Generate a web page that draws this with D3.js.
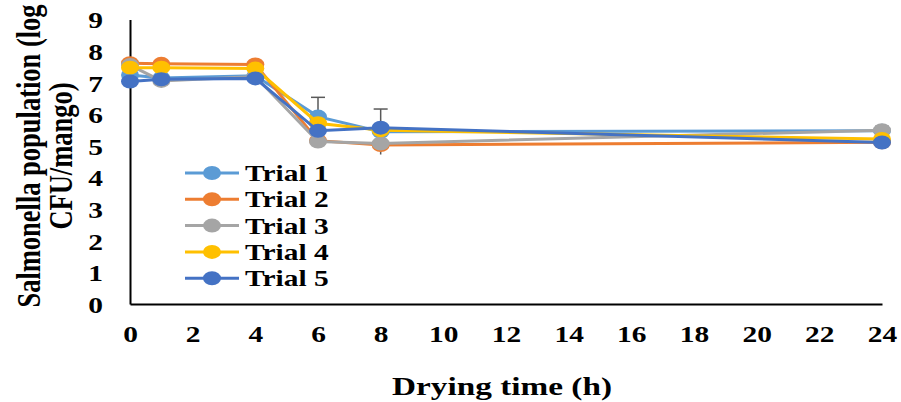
<!DOCTYPE html>
<html>
<head>
<meta charset="utf-8">
<script src="https://cdn.jsdelivr.net/npm/d3@7"></script>
<style>
  body { margin: 0; background: #fff; }
  svg text { font-family: "Times New Roman", "Liberation Serif", Times, serif; font-weight: bold; fill: #000; }
</style>
</head>
<body>
<div id="chart"></div>
<script>
  var hours = [0, 1, 4, 6, 8, 24];
  var trialNames = ['Trial 1', 'Trial 2', 'Trial 3', 'Trial 4', 'Trial 5'];
  var trial1 = [7.25, 7.15, 7.22, 5.93, 5.45, 5.48];
  var trial2 = [7.62, 7.60, 7.58, 5.17, 5.03, 5.12];
  var trial3 = [7.56, 7.06, 7.20, 5.14, 5.08, 5.50];
  var trial4 = [7.48, 7.48, 7.45, 5.72, 5.50, 5.22];
  var trial5 = [7.04, 7.11, 7.14, 5.48, 5.58, 5.11];
  var trial1Err = [0, 0, 0, 0.61, 0.72, 0];
  var trial3Err = [0, 0, 0, 0, 0, 0.12];
  var xTicks = d3.range(0, 25, 2);
  var yTicks = d3.range(0, 10, 1);

  var colors = ['#5B9BD5', '#ED7D31', '#A5A5A5', '#FFC000', '#4472C4'];
  var series = [trial1, trial2, trial3, trial4, trial5];
  var errors = [trial1Err, null, trial3Err, null, null];
  var font = '"Times New Roman", "Liberation Serif", Times, serif';
  var stretch = 1.28;   // the original picture is widened, text included

  var width = 901, height = 402;
  var x = d3.scaleLinear().domain([0, 24]).range([130, 882]);
  var y = d3.scaleLinear().domain([0, 9]).range([304, 19.6]);

  var svg = d3.select('#chart').append('svg')
    .attr('width', width)
    .attr('height', height);

  // axes: plain lines, labels without tick marks
  var xAxis = svg.append('g')
    .attr('transform', 'translate(0,' + y(0) + ')')
    .call(d3.axisBottom(x).tickValues(xTicks).tickSize(0).tickPadding(22));
  var yAxis = svg.append('g')
    .attr('transform', 'translate(' + x(0) + ',0)')
    .call(d3.axisLeft(y).tickValues(yTicks).tickSize(0).tickPadding(27));

  [xAxis, yAxis].forEach(function (ax) {
    ax.attr('font-family', font).attr('font-size', 23);
    ax.select('.domain').attr('stroke', '#000').attr('stroke-width', 2);
    ax.selectAll('text')
      .style('font-family', font)
      .style('font-weight', 'bold')
      .style('font-size', '23px')
      .attr('fill', '#000');
  });
  xAxis.selectAll('text')
    .attr('dy', '0.71em')
    .attr('transform', 'scale(' + stretch + ',1)');
  yAxis.selectAll('text')
    .attr('x', 0)
    .attr('dy', '0.36em')
    .attr('transform', 'translate(-27,0) scale(' + stretch + ',1)');

  var line = d3.line()
    .x(function (d, i) { return x(hours[i]); })
    .y(function (d) { return y(d); });

  // error bars (only the upper whisker shows above the markers)
  series.forEach(function (vals, s) {
    if (!errors[s]) return;
    vals.forEach(function (v, i) {
      var e = errors[s][i];
      if (!e) return;
      var g = svg.append('g').attr('stroke', '#595959').attr('stroke-width', 1.5);
      g.append('line')
        .attr('x1', x(hours[i])).attr('x2', x(hours[i]))
        .attr('y1', y(v - e)).attr('y2', y(v + e));
      g.append('line')
        .attr('x1', x(hours[i]) - 7).attr('x2', x(hours[i]) + 7)
        .attr('y1', y(v + e)).attr('y2', y(v + e));
    });
  });

  series.forEach(function (vals, s) {
    svg.append('path')
      .datum(vals)
      .attr('d', line)
      .attr('fill', 'none')
      .attr('stroke', colors[s])
      .attr('stroke-width', 3);
    svg.selectAll('.dot' + s)
      .data(vals)
      .enter()
      .append('ellipse')
      .attr('cx', function (d, i) { return x(hours[i]); })
      .attr('cy', function (d) { return y(d); })
      .attr('rx', 9)
      .attr('ry', 7)
      .attr('fill', colors[s]);
  });

  // legend
  var legend = svg.append('g');
  trialNames.forEach(function (name, i) {
    var ly = 173 + i * 26.3;
    legend.append('line')
      .attr('x1', 185).attr('x2', 239)
      .attr('y1', ly).attr('y2', ly)
      .attr('stroke', colors[i])
      .attr('stroke-width', 3);
    legend.append('ellipse')
      .attr('cx', 212).attr('cy', ly).attr('rx', 9).attr('ry', 7)
      .attr('fill', colors[i]);
    legend.append('text')
      .attr('transform', 'translate(245,' + ly + ') scale(' + stretch + ',1)')
      .attr('dy', '0.35em')
      .style('font-size', '23px')
      .text(name);
  });

  // axis titles
  svg.append('text')
    .attr('transform', 'translate(502,395) scale(' + stretch + ',1)')
    .attr('text-anchor', 'middle')
    .style('font-size', '26px')
    .text('Drying time (h)');

  var yTitle = svg.append('text')
    .attr('transform', 'translate(40,156) scale(' + stretch + ',1) rotate(-90)')
    .attr('text-anchor', 'middle')
    .style('font-size', '26.5px');
  yTitle.append('tspan').attr('x', 0).attr('y', 0).text('Salmonella population (log');
  yTitle.append('tspan').attr('x', 0).attr('y', 25).text('CFU/mango)');
</script>
</body>
</html>
